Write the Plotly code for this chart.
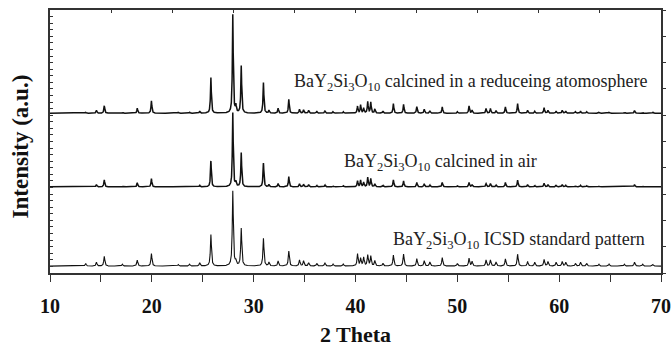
import numpy as np
import plotly.graph_objects as go

# ---- data (2θ in degrees, relative intensity, strongest = 100) ----
peak_pos = [13.5, 14.56, 15.33, 17.1, 18.57, 19.96, 22.6, 23.7, 24.7, 25.8, 27.95, 28.25, 28.78,
            30.96, 31.5, 32.4, 33.45, 34.5, 34.9, 35.4, 36.2, 37.0, 37.8, 38.8, 40.2, 40.5, 40.8,
            41.2, 41.5, 41.9, 42.7, 43.72, 44.72, 46.02, 46.75, 47.3, 48.52, 50.0, 51.15, 51.45,
            52.82, 53.25, 53.8, 54.72, 55.92, 56.9, 57.6, 58.52, 58.9, 59.7, 60.3, 60.65, 61.6,
            62.1, 62.7, 63.9, 64.9, 66.4, 67.4, 68.2, 69.2]

icsd_int = [3.5, 5, 13, 2.6, 8, 16.7, 2, 2.5, 4.4, 42, 100, 5.5, 50,
            37, 5, 6.6, 20, 8, 7, 4.4, 3.5, 4.4, 2.6, 2.6, 16, 10, 11.5,
            14.5, 13, 7, 3.5, 14.5, 16, 10, 7, 5.5, 11.4, 3.5, 10.5, 6,
            8, 8, 5.5, 9.6, 15.8, 6, 5, 8.8, 6, 5, 6, 5, 3.5,
            5, 3.5, 2.6, 2.6, 2.6, 5.3, 2.6, 2.2]

air_int = [1, 3, 9.5, 1, 5.5, 11, 1, 1, 2, 35, 100, 6, 46,
           32, 3, 4.5, 14, 4, 3.5, 3, 2, 2.5, 1.5, 1.5, 8, 9, 6,
           12.7, 11, 4, 2, 9.5, 8, 6, 4, 2.5, 6, 1.5, 6, 3,
           4.5, 4.5, 2.5, 6, 9, 3, 2, 5, 3, 2, 3, 2, 1.5,
           2, 1.5, 1, 1, 1, 3, 1, 1]

reduced_int = [1, 3, 7.5, 1, 5, 12.5, 1, 1, 2, 36, 100, 7, 48,
               31, 3, 5, 14, 4, 3.5, 3, 2, 2.5, 1.5, 1.5, 7, 8.3, 5,
               11.7, 11, 4, 2, 9.7, 9, 6.7, 4, 2.5, 6.3, 1.5, 7.3, 3,
               4.7, 4.7, 2.5, 6.3, 9.7, 3, 2, 5.7, 3, 2, 3, 2, 1.5,
               2, 1.5, 1, 1, 1, 2.7, 1, 1]

series_names = ["BaY<sub>2</sub>Si<sub>3</sub>O<sub>10</sub> calcined in a reduceing atomosphere",
                "BaY<sub>2</sub>Si<sub>3</sub>O<sub>10</sub> calcined in air",
                "BaY<sub>2</sub>Si<sub>3</sub>O<sub>10</sub> ICSD standard pattern"]

x_ticks = [10, 20, 30, 40, 50, 60, 70]
x_title = "2 Theta"
y_title = "Intensity (a.u.)"

# ---- rendering of the patterns (peak list -> profile) ----
grid = np.round(np.arange(10.0, 70.0001, 0.01), 3)


def profile(pos, inten, scale, offset, hw):
    p = np.asarray(pos)[:, None]
    h = np.asarray(inten)[:, None] / 100.0 * scale
    y = (h / (1.0 + ((grid[None, :] - p) / hw) ** 2)).sum(axis=0)
    return y + offset


y_red = profile(peak_pos, reduced_int, 15.0, 24.3, 0.05)
y_air = profile(peak_pos, air_int, 11.25, 13.1, 0.05)
y_icsd = profile(peak_pos, icsd_int, 11.4, 1.05, 0.06)

fig = go.Figure()
for yv, w in [(y_red, 1.5), (y_air, 1.5), (y_icsd, 1.1)]:
    fig.add_trace(go.Scatter(x=grid, y=yv, mode="lines",
                             line=dict(color="#111111", width=w), showlegend=False,
                             hoverinfo="skip"))

# invisible trace to carry the secondary (top / right) axes
fig.add_trace(go.Scatter(x=[10, 70], y=[0, 40], xaxis="x2", yaxis="y2", mode="markers",
                         marker=dict(opacity=0), showlegend=False, hoverinfo="skip"))

SERIF = "Liberation Serif, Times New Roman, Times, serif"
axis_font = dict(family=SERIF, size=20, color="#111111")
line_col = "#333333"

fig.update_layout(
    width=671, height=346,
    margin=dict(l=50, r=10, t=10, b=73, autoexpand=False),
    paper_bgcolor="white", plot_bgcolor="white",
    xaxis=dict(range=[10, 70], tickvals=x_ticks, ticktext=[f"<b>{v}</b>" for v in x_ticks],
               ticks="outside", ticklen=7, tickwidth=1.3, tickcolor=line_col,
               ticklabelstandoff=7,
               minor=dict(dtick=5, tick0=10, ticks="outside", ticklen=7, tickwidth=1.3,
                          tickcolor=line_col, showgrid=False),
               showline=True, linecolor=line_col, linewidth=1.5, mirror=True,
               showgrid=False, zeroline=False, tickfont=axis_font, automargin=False),
    xaxis2=dict(range=[10, 70], overlaying="x", side="top", anchor="y", dtick=6, tick0=10,
                ticks="inside", ticklen=3, tickwidth=1, tickcolor=line_col, automargin=False,
                showticklabels=False, showline=False, showgrid=False, zeroline=False),
    yaxis=dict(range=[0, 40], dtick=1, tick0=0, ticks="inside", ticklen=3, tickwidth=1,
               tickcolor=line_col, showticklabels=False, automargin=False,
               showline=True, linecolor=line_col, linewidth=1.5, mirror=True,
               showgrid=False, zeroline=False),
    yaxis2=dict(range=[0, 40], overlaying="y", side="right", anchor="x", dtick=4, tick0=0,
                ticks="outside", ticklen=4, tickwidth=1, tickcolor=line_col, automargin=False,
                showticklabels=False, showline=False, showgrid=False, zeroline=False),
)

# axis titles
fig.add_annotation(x=0.5, y=-0.232, xref="paper", yref="paper", text=f"<b>{x_title}</b>",
                   showarrow=False, xanchor="center", yanchor="middle",
                   font=dict(family=SERIF, size=22, color="#111111"))
fig.add_annotation(x=-0.0475, y=0.481, xref="paper", yref="paper", text=f"<b>{y_title}</b>",
                   showarrow=False, xanchor="center", yanchor="middle", textangle=-90,
                   font=dict(family=SERIF, size=23, color="#111111"))

label_x = [33.77, 38.68, 43.49]
label_y = [29.0, 16.8, 4.9]
for name, lx, ly in zip(series_names, label_x, label_y):
    fig.add_annotation(x=lx, y=ly, xref="x", yref="y", text=name, showarrow=False,
                       xanchor="left", yanchor="middle",
                       font=dict(family=SERIF, size=18, color="#222222"))

fig.write_html("out.html", config={"displayModeBar": False},
               post_script="document.body.style.margin='0';document.body.style.padding='0';")
